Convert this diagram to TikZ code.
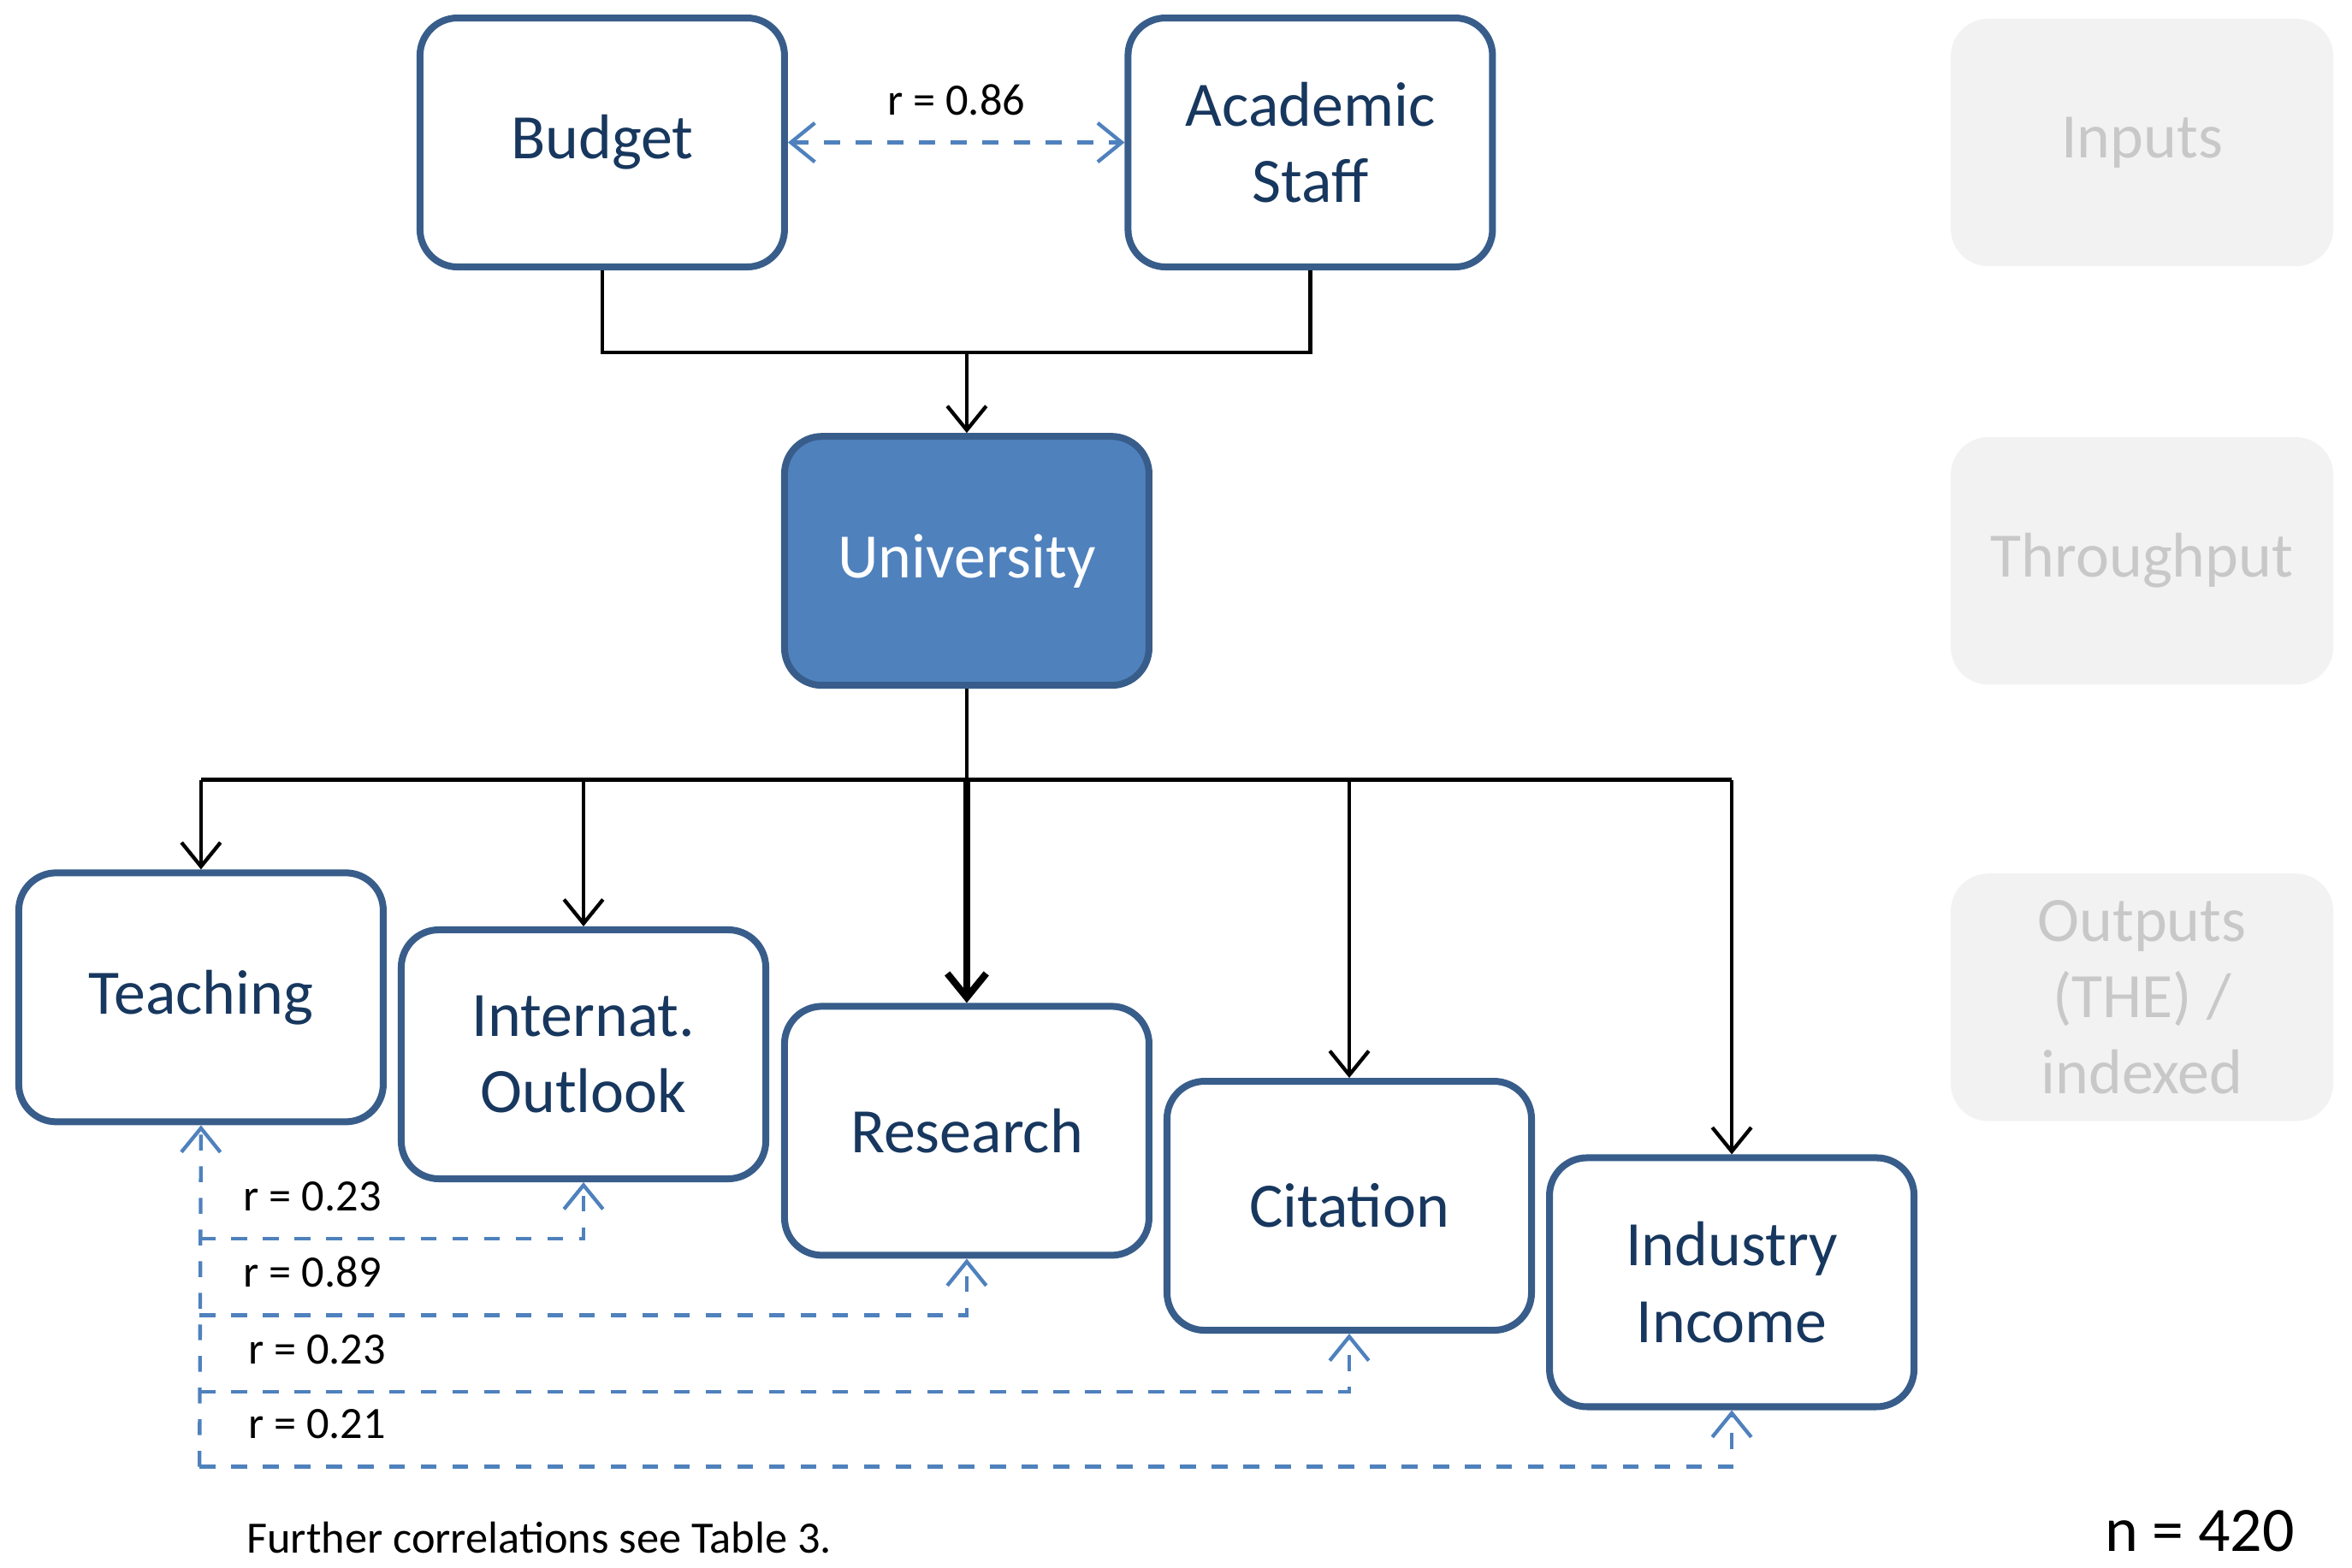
\documentclass[tikz,border=0pt]{standalone}
\usepackage{fontspec}
\setmainfont{Carlito}
\usetikzlibrary{arrows.meta}
\definecolor{boxblue}{HTML}{4F81BD}
\definecolor{boxline}{HTML}{385D8A}
\definecolor{textblue}{HTML}{17375E}
\definecolor{hintfill}{HTML}{F2F2F2}
\definecolor{hinttext}{HTML}{C8C8C8}
\tikzset{
  box/.style={draw=boxline, line width=1.3pt, rounded corners=0.25cm, fill=white,
    minimum width=2.43cm, minimum height=1.66cm, align=center, text=textblue,
    font=\fontsize{12}{14.5}\selectfont},
  hint/.style={fill=hintfill, rounded corners=0.25cm, minimum width=2.55cm,
    minimum height=1.65cm, align=center, text=hinttext, font=\fontsize{12}{14.5}\selectfont},
  flow/.style={line width=0.7pt, -{Straight Barb[length=1.6mm,width=2.6mm]}},
  corr/.style={boxblue, dashed, line width=0.7pt, -{Straight Barb[length=1.6mm,width=2.6mm]}},
  lab/.style={font=\fontsize{8.5}{10}\selectfont}
}
\begin{document}
\begin{tikzpicture}
\useasboundingbox (0,0) rectangle (15.68,10.45);

\node[box] (budget) at (4.015,9.50) {Budget};
\node[box] (staff) at (8.735,9.50) {Academic\\Staff};
\node[box, fill=boxblue, text=white] (uni) at (6.445,6.71) {University};
\node[box] (teach) at (1.34,3.80) {Teaching};
\node[box] (intl) at (3.89,3.42) {Internat.\\Outlook};
\node[box] (res) at (6.445,2.91) {Research};
\node[box] (cit) at (8.995,2.41) {Citation};
\node[box] (ind) at (11.545,1.90) {Industry\\Income};

\node[hint] (inputs) at (14.28,9.50) {Inputs};
\node[hint] (through) at (14.28,6.71) {Throughput};
\node[hint] (outputs) at (14.28,3.80) {Outputs\\(THE) /\\indexed};

% inputs into university
\coordinate (join) at (6.445,8.10);
\draw[line width=0.7pt] (budget.south) |- (join) -| (staff.south);
\draw[flow] (join) -- (uni.north);

% university to outputs
\coordinate (split) at (6.445,5.25);
\draw[line width=0.7pt] (uni.south) -- (split);
\draw[line width=0.7pt] (teach.north |- split) -- (ind.north |- split);
\draw[flow] (teach.north |- split) -- (teach.north);
\draw[flow] (intl.north |- split) -- (intl.north);
\draw[flow, line width=1.3pt] (split) -- (res.north);
\draw[flow] (cit.north |- split) -- (cit.north);
\draw[flow] (ind.north |- split) -- (ind.north);

% correlations
\draw[corr, {Straight Barb[length=1.6mm,width=2.6mm]}-{Straight Barb[length=1.6mm,width=2.6mm]}]
  (budget.east) -- node[lab, text=black, above=0.05cm] {r = 0.86} (staff.east -| staff.west);

\coordinate (c1) at (1.33,2.19);
\coordinate (c2) at (1.33,1.68);
\coordinate (c3) at (1.33,1.17);
\coordinate (c4) at (1.33,0.67);
\draw[corr] (c4) -- (teach.south);
\draw[corr] (c1) -| (intl.south);
\draw[corr] (c2) -| (res.south);
\draw[corr] (c3) -| (cit.south);
\draw[corr] (c4) -| (ind.south);
\node[lab, anchor=south west] (r1) at (1.50,2.25) {r = 0.23};
\node[lab, anchor=south west] (r2) at (1.50,1.74) {r = 0.89};
\node[lab, anchor=south west] (r3) at (1.53,1.23) {r = 0.23};
\node[lab, anchor=south west] (r4) at (1.53,0.73) {r = 0.21};

\node[lab, anchor=west] (note) at (1.52,0.20) {Further correlations see Table 3.};
\node[anchor=east, font=\fontsize{12}{14}\selectfont] (n) at (15.42,0.24) {n = 420};
\end{tikzpicture}
\end{document}
